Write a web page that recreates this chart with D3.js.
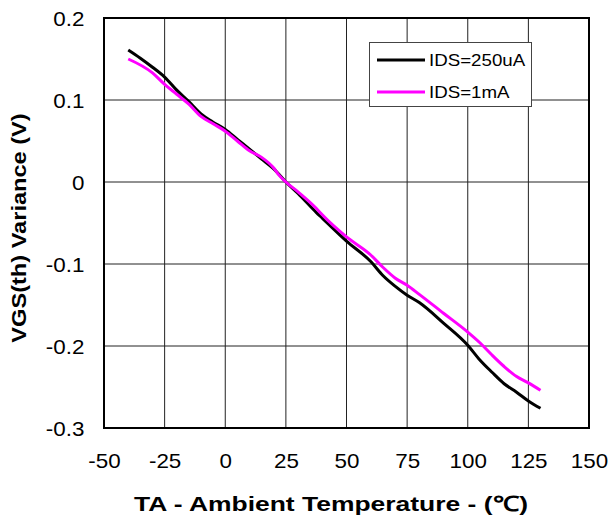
<!DOCTYPE html>
<html>
<head>
<meta charset="utf-8">
<script src="https://cdn.jsdelivr.net/npm/d3@7"></script>
<style>
  body { margin: 0; background: #fff; }
  text { font-family: "Liberation Sans", Arial, sans-serif; fill: #000; }
</style>
</head>
<body>
<div id="chart"></div>
<script>
// temperatures (C)
var tempBlack = [-40, -35, -30, -25, -20, -15, -10, -5, 0, 5, 10, 15, 20, 25, 30, 37.5, 40, 50, 60, 65, 70, 75, 80, 90, 100, 105, 110, 115, 120, 125, 130]
var vgs250uA = [0.161, 0.151, 0.140, 0.128, 0.112, 0.098, 0.083, 0.073, 0.064, 0.052, 0.040, 0.028, 0.016, 0.000, -0.014, -0.037, -0.044, -0.072, -0.097, -0.114, -0.127, -0.138, -0.147, -0.172, -0.199, -0.217, -0.232, -0.246, -0.256, -0.267, -0.276]

var tempPink = [-40, -30, -25, -20, -15, -10, -5, 0, 5, 10, 15, 20, 22, 25, 30, 37.5, 40, 50, 60, 65, 70, 75, 80, 90, 100, 105, 110, 115, 120, 125, 130]
var vgs1mA = [0.150, 0.133, 0.119, 0.107, 0.095, 0.080, 0.071, 0.062, 0.050, 0.038, 0.030, 0.017, 0.009, 0.000, -0.012, -0.032, -0.040, -0.067, -0.089, -0.104, -0.117, -0.126, -0.137, -0.160, -0.183, -0.196, -0.211, -0.225, -0.237, -0.245, -0.254]

var xTicks = [-50, -25, 0, 25, 50, 75, 100, 125, 150]
var yTicks = [0.2, 0.1, 0, -0.1, -0.2, -0.3]
var yTickLabels = ["0.2", "0.1", "0", "-0.1", "-0.2", "-0.3"]
var seriesNames = ["IDS=250uA", "IDS=1mA"]
var seriesColors = ["#000000", "#ff00ff"]

var width = 611
var height = 521
var plotLeft = 104, plotRight = 589, plotTop = 18, plotBottom = 428

var svg = d3.select("#chart")
  .append("svg")
    .attr("width", width)
    .attr("height", height)

var x = d3.scaleLinear().domain([-50, 150]).range([plotLeft, plotRight])
var y = d3.scaleLinear().domain([-0.3, 0.2]).range([plotBottom, plotTop])

// grid
svg.append("g")
  .selectAll("line")
  .data(xTicks)
  .enter()
  .append("line")
    .attr("x1", function(d) { return x(d) })
    .attr("x2", function(d) { return x(d) })
    .attr("y1", plotTop)
    .attr("y2", plotBottom)
    .attr("stroke", "#222")
    .attr("stroke-width", 1)

svg.append("g")
  .selectAll("line")
  .data(yTicks)
  .enter()
  .append("line")
    .attr("x1", plotLeft)
    .attr("x2", plotRight)
    .attr("y1", function(d) { return y(d) })
    .attr("y2", function(d) { return y(d) })
    .attr("stroke", "#222")
    .attr("stroke-width", 1)

// axes (labels only, frame drawn below)
var xAxis = svg.append("g")
  .attr("transform", "translate(0," + plotBottom + ")")
  .call(d3.axisBottom(x).tickValues(xTicks).tickSize(0).tickPadding(0).tickFormat(function(d) { return String(d) }))
xAxis.select(".domain").remove()
xAxis.selectAll("text")
  .attr("y", 40)
  .attr("dy", 0)
  .attr("transform", "scale(1.12,1)")
  .style("font-size", "20px")

var yAxis = svg.append("g")
  .attr("transform", "translate(" + plotLeft + ",0)")
  .call(d3.axisLeft(y).tickValues(yTicks).tickSize(0).tickPadding(0).tickFormat(function(d, i) { return yTickLabels[i] }))
yAxis.select(".domain").remove()
yAxis.selectAll("text")
  .attr("x", -17.5)
  .attr("dy", "0.36em")
  .attr("transform", "scale(1.12,1)")
  .style("font-size", "20px")

// frame
svg.append("rect")
  .attr("x", plotLeft)
  .attr("y", plotTop)
  .attr("width", plotRight - plotLeft)
  .attr("height", plotBottom - plotTop)
  .attr("fill", "none")
  .attr("stroke", "#000")
  .attr("stroke-width", 2)

// curves
var line = d3.line()
  .x(function(d) { return x(d[0]) })
  .y(function(d) { return y(d[1]) })
  .curve(d3.curveMonotoneX)

var series = [
  d3.zip(tempBlack, vgs250uA),
  d3.zip(tempPink, vgs1mA)
]

svg.selectAll(".curve")
  .data(series)
  .enter()
  .append("path")
    .attr("class", "curve")
    .attr("d", line)
    .attr("fill", "none")
    .attr("stroke", function(d, i) { return seriesColors[i] })
    .attr("stroke-width", 3)
    .attr("stroke-linejoin", "round")

// legend
var legend = svg.append("g")
legend.append("rect")
  .attr("x", 369.5)
  .attr("y", 42.5)
  .attr("width", 162)
  .attr("height", 64)
  .attr("fill", "#fff")
  .attr("stroke", "#444")
  .attr("stroke-width", 1)

seriesNames.forEach(function(name, i) {
  var ly = 60 + i * 32
  legend.append("line")
    .attr("x1", 377)
    .attr("x2", 425)
    .attr("y1", ly)
    .attr("y2", ly)
    .attr("stroke", seriesColors[i])
    .attr("stroke-width", 3)
  legend.append("text")
    .attr("transform", "translate(429," + (ly + 5.5) + ") scale(1.17,1)")
    .style("font-size", "16px")
    .text(name)
})

// axis titles
svg.append("text")
  .attr("transform", "translate(331,511) scale(1.26,1)")
  .attr("text-anchor", "middle")
  .style("font-size", "21px")
  .style("font-weight", "bold")
  .text("TA - Ambient Temperature - (℃)")

svg.append("text")
  .attr("transform", "translate(26,228) rotate(-90) scale(1.18,1)")
  .attr("text-anchor", "middle")
  .style("font-size", "20px")
  .style("font-weight", "bold")
  .text("VGS(th) Variance (V)")
</script>
</body>
</html>
